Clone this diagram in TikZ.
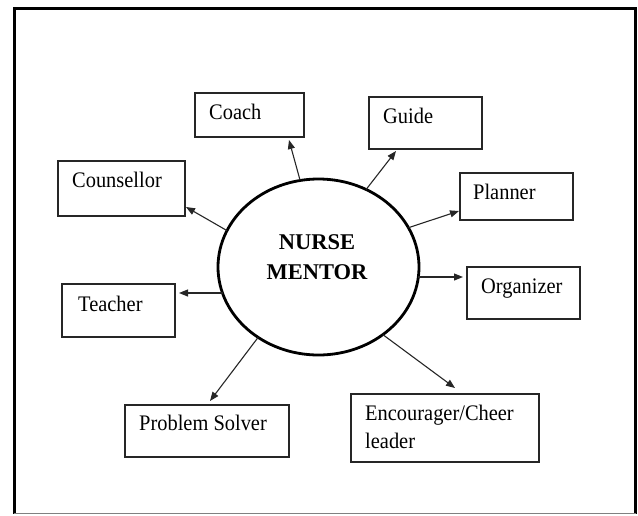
\documentclass[tikz,border=0pt]{standalone}
\usepackage{fontspec}
\setmainfont{Liberation Serif}[FakeStretch=0.92]
\newfontfamily\hubfont{Liberation Serif}
\usetikzlibrary{arrows.meta,shapes.geometric,calc}
\begin{document}
\begin{tikzpicture}[x=1pt,y=-1pt,
  box/.style={draw=black!85,line width=1.3pt,rectangle,inner sep=0pt,outer sep=0pt,anchor=north west},
  lbl/.style={font=\fontsize{22.2}{28}\selectfont,inner sep=0pt,anchor=base west},
  arr/.style={draw=black!85,line width=1.1pt,-{Triangle[length=9pt,width=7pt]}},
  hub/.style={draw,ellipse,line width=2.8pt,inner sep=0pt,outer sep=0pt},
  hubtext/.style={font=\hubfont\fontsize{22.5}{30}\selectfont\bfseries,align=center,inner sep=0pt}
]
\useasboundingbox (0,0) rectangle (638,515);
% frame
\draw[line width=3pt] (14.3,513.5) -- (14.3,8) -- (635.5,8) -- (635.5,513.5);
\draw[gray,line width=1.5pt] (14.3,513.5) -- (635.5,513.5);

% centre
\node[hub,minimum width=201pt,minimum height=176pt] (mentor) at (318.5,267) {};
\node[hubtext] (mentorT) at (317,257) {NURSE\\MENTOR};

% boxes
\node[box,minimum width=109pt,minimum height=44pt] (coach) at (195,93) {};
\node[box,minimum width=113pt,minimum height=52pt] (guide) at (369,97) {};
\node[box,minimum width=127pt,minimum height=55pt] (couns) at (58,161) {};
\node[box,minimum width=113pt,minimum height=47pt] (planner) at (460,173) {};
\node[box,minimum width=113pt,minimum height=52pt] (organizer) at (467,267) {};
\node[box,minimum width=113pt,minimum height=53pt] (teacher) at (62,284) {};
\node[box,minimum width=164pt,minimum height=52pt] (ps) at (125,405) {};
\node[box,minimum width=188pt,minimum height=68pt] (enc) at (351,394) {};

% labels
\node[lbl] (coachT) at ($(coach.north west)+(14,26)$) {Coach};
\node[lbl] (guideT) at ($(guide.north west)+(14,26)$) {Guide};
\node[lbl] (counsT) at ($(couns.north west)+(14,26)$) {Counsellor};
\node[lbl] (plannerT) at ($(planner.north west)+(13,26)$) {Planner};
\node[lbl] (organizerT) at ($(organizer.north west)+(14,26)$) {Organizer};
\node[lbl] (teacherT) at ($(teacher.north west)+(16,27)$) {Teacher};
\node[lbl] (psT) at ($(ps.north west)+(14,25)$) {Problem Solver};
\node[lbl] (encT1) at ($(enc.north west)+(14,26)$) {Encourager/Cheer};
\node[lbl] (encT2) at ($(enc.north west)+(14,54)$) {leader};

% connectors (start points on the ellipse, relative to its centre)
\draw[arr] ($(mentor.center)+(-18.5,-87)$) -- ($(coach.south west)+(94,3)$);
\draw[arr] ($(mentor.center)+(47.6,-77.5)$) -- ($(guide.south west)+(27,2)$);
\draw[arr] ($(mentor.center)+(-91.5,-36.4)$) -- ($(couns.north east)+(1,46)$);
\draw[arr] ($(mentor.center)+(89.9,-39.3)$) -- ($(planner.north west)+(-1,38)$);
\draw[arr] ($(mentor.center)+(99.85,10)$) -- ($(organizer.north west)+(-4,10)$);
\draw[arr] ($(mentor.center)+(-96,26)$) -- ($(teacher.north east)+(4,9)$);
\draw[arr] ($(mentor.center)+(-60.4,70.4)$) -- ($(ps.north west)+(85,-4)$);
\draw[arr] ($(mentor.center)+(64.3,67.6)$) -- ($(enc.north west)+(104,-6)$);
\end{tikzpicture}
\end{document}
